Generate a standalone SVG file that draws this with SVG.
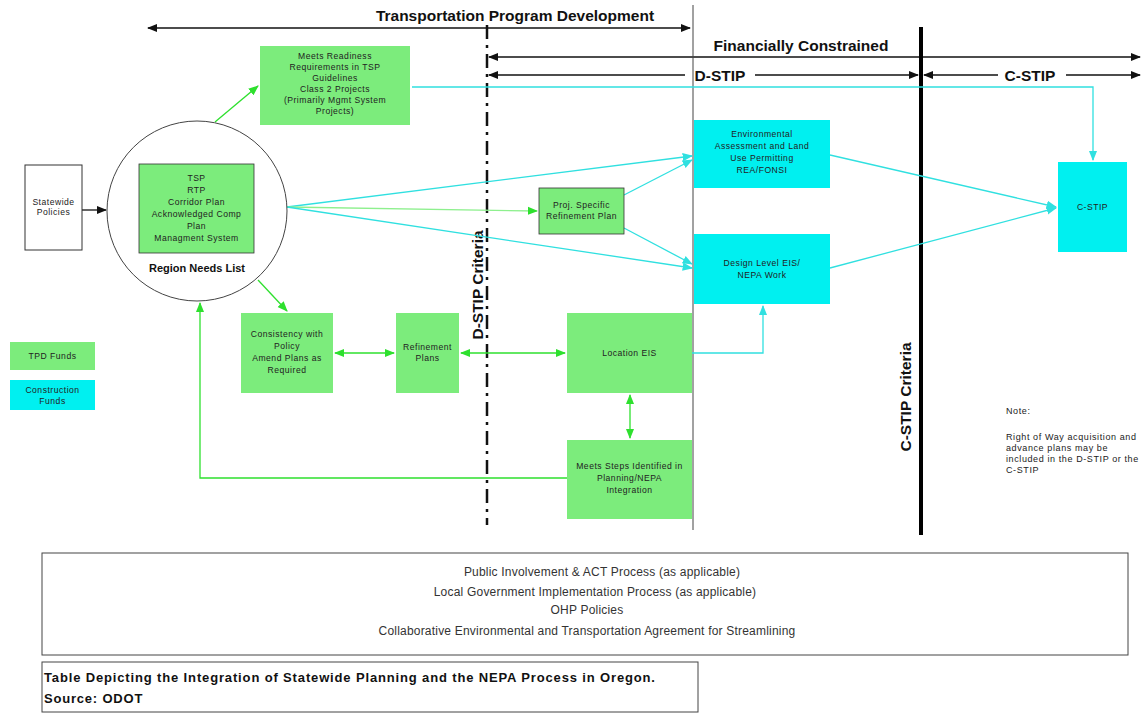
<svg xmlns="http://www.w3.org/2000/svg" width="1144" height="713" viewBox="0 0 1144 713">
<defs>
<style>
.g{fill:#7cec7c}
.c{fill:#00f0f0}
.t{font-family:"Liberation Sans",Arial,sans-serif;font-size:8.6px;letter-spacing:0.5px;fill:#222;text-anchor:middle}
.h{font-family:"Liberation Sans",Arial,sans-serif;font-size:15.5px;font-weight:bold;fill:#111;text-anchor:middle}
.b{font-family:"Liberation Sans",Arial,sans-serif;font-size:12px;letter-spacing:0.2px;fill:#333;text-anchor:middle}
.n{font-family:"Liberation Sans",Arial,sans-serif;font-size:9px;letter-spacing:0.6px;fill:#222}
.k{stroke:#111;stroke-width:1.3;fill:none}
.gl{stroke:#2ee02e;stroke-width:1.3;fill:none}
.cl{stroke:#30e0e0;stroke-width:1.3;fill:none}
</style>
<marker id="ak" viewBox="0 0 10 10" refX="9" refY="5" markerWidth="8" markerHeight="8" orient="auto-start-reverse"><path d="M0,1 L10,5 L0,9 z" fill="#111"/></marker>
<marker id="ag" viewBox="0 0 10 10" refX="9" refY="5" markerWidth="8" markerHeight="8" orient="auto-start-reverse"><path d="M0,1 L10,5 L0,9 z" fill="#2ee02e"/></marker>
<marker id="ac" viewBox="0 0 10 10" refX="9" refY="5" markerWidth="8" markerHeight="8" orient="auto-start-reverse"><path d="M0,1 L10,5 L0,9 z" fill="#30e0e0"/></marker>
</defs>
<rect width="1144" height="713" fill="#fff"/>

<!-- timeline headers -->
<g id="timeline">
<text class="h" x="515" y="21">Transportation  Program Development</text>
<line class="k" x1="148" y1="28" x2="690" y2="28" marker-start="url(#ak)" marker-end="url(#ak)"/>
<text class="h" x="801" y="51">Financially Constrained</text>
<line class="k" x1="489" y1="57" x2="1140" y2="57" marker-start="url(#ak)" marker-end="url(#ak)"/>
<line class="k" x1="489" y1="75" x2="685" y2="75" marker-start="url(#ak)"/>
<text class="h" x="720" y="81">D-STIP</text>
<line class="k" x1="755" y1="75" x2="918" y2="75" marker-end="url(#ak)"/>
<line class="k" x1="924" y1="75" x2="998" y2="75" marker-start="url(#ak)"/>
<text class="h" x="1030" y="81">C-STIP</text>
<line class="k" x1="1066" y1="75" x2="1140" y2="75" marker-end="url(#ak)"/>
<line x1="693" y1="5" x2="693" y2="530" stroke="#444" stroke-width="1"/>
<line x1="487" y1="25" x2="487" y2="525" stroke="#111" stroke-width="2.5" stroke-dasharray="14,6,3,6"/>
<line x1="921" y1="27" x2="921" y2="535" stroke="#000" stroke-width="4"/>
<text class="h" transform="translate(483,285) rotate(-90)">D-STIP Criteria</text>
<text class="h" transform="translate(911,397) rotate(-90)">C-STIP Criteria</text>
</g>

<!-- connectors -->
<g id="connectors">
<polyline class="cl" points="412,87 1093,87 1093,160" marker-end="url(#ac)"/>
<line class="k" x1="82" y1="210" x2="106" y2="210" marker-end="url(#ak)"/>
<line class="gl" x1="215" y1="122" x2="258" y2="86" marker-end="url(#ag)"/>
<line class="cl" x1="287" y1="207" x2="692" y2="156" marker-end="url(#ac)"/>
<line x1="287" y1="207" x2="537" y2="211" stroke="#8ef08e" stroke-width="1.3" marker-end="url(#ag)"/>
<line class="cl" x1="287" y1="207" x2="692" y2="268" marker-end="url(#ac)"/>
<line class="cl" x1="624" y1="195" x2="692" y2="160" marker-end="url(#ac)"/>
<line class="cl" x1="624" y1="228" x2="692" y2="264" marker-end="url(#ac)"/>
<line class="cl" x1="830" y1="155" x2="1056" y2="207" marker-end="url(#ac)"/>
<line class="cl" x1="830" y1="268" x2="1056" y2="208" marker-end="url(#ac)"/>
<polyline class="cl" points="692,353 763,353 763,306" marker-end="url(#ac)"/>
<line class="gl" x1="258" y1="280" x2="287" y2="311" marker-end="url(#ag)"/>
<line class="gl" x1="335" y1="353" x2="394" y2="353" marker-start="url(#ag)" marker-end="url(#ag)"/>
<line class="gl" x1="461" y1="353" x2="565" y2="353" marker-start="url(#ag)" marker-end="url(#ag)"/>
<line class="gl" x1="630" y1="395" x2="630" y2="438" marker-start="url(#ag)" marker-end="url(#ag)"/>
<polyline class="gl" points="567,478 200,478 200,303" marker-end="url(#ag)"/>
</g>

<g id="statewide-policies">
<rect x="25" y="165" width="57" height="85" fill="#fff" stroke="#333" stroke-width="1"/>
<text class="t" x="53.5" y="205">Statewide</text>
<text class="t" x="53.5" y="215">Policies</text>
</g>

<g id="region-needs">
<circle cx="197" cy="211" r="90" fill="#fff" stroke="#444" stroke-width="1"/>
<rect class="g" x="139" y="164" width="115" height="89" stroke="#333" stroke-width="0.8"/>
<text class="t" x="196.5" y="181">TSP</text>
<text class="t" x="196.5" y="193">RTP</text>
<text class="t" x="196.5" y="205">Corridor Plan</text>
<text class="t" x="196.5" y="217">Acknowledged Comp</text>
<text class="t" x="196.5" y="229">Plan</text>
<text class="t" x="196.5" y="241">Managment System</text>
<text x="197" y="272" font-family="Liberation Sans,Arial,sans-serif" font-size="11" font-weight="bold" fill="#111" text-anchor="middle">Region Needs List</text>
</g>

<g id="readiness">
<rect class="g" x="260" y="46" width="150" height="79"/>
<text class="t" x="335" y="59">Meets Readiness</text>
<text class="t" x="335" y="70">Requirements in TSP</text>
<text class="t" x="335" y="81">Guidelines</text>
<text class="t" x="335" y="92">Class 2 Projects</text>
<text class="t" x="335" y="103">(Primarily Mgmt System</text>
<text class="t" x="335" y="114">Projects)</text>
</g>

<g id="proj-specific">
<rect class="g" x="539" y="188" width="85" height="46" stroke="#333" stroke-width="0.8"/>
<text class="t" x="581.5" y="208">Proj. Specific</text>
<text class="t" x="581.5" y="219">Refinement Plan</text>
</g>

<g id="env-assessment">
<rect class="c" x="694" y="120" width="136" height="68"/>
<text class="t" x="762" y="137">Environmental</text>
<text class="t" x="762" y="149">Assessment and Land</text>
<text class="t" x="762" y="161">Use Permitting</text>
<text class="t" x="762" y="173">REA/FONSI</text>
</g>

<g id="design-level">
<rect class="c" x="694" y="234" width="136" height="70"/>
<text class="t" x="762" y="266">Design Level EIS/</text>
<text class="t" x="762" y="278">NEPA Work</text>
</g>

<g id="c-stip">
<rect class="c" x="1058" y="162" width="69" height="90"/>
<text class="t" x="1092.5" y="210">C-STIP</text>
</g>

<g id="consistency">
<rect class="g" x="241" y="313" width="92" height="80"/>
<text class="t" x="287" y="337">Consistency with</text>
<text class="t" x="287" y="349">Policy</text>
<text class="t" x="287" y="361">Amend Plans as</text>
<text class="t" x="287" y="373">Required</text>
</g>

<g id="refinement-plans">
<rect class="g" x="396" y="313" width="63" height="80"/>
<text class="t" x="427.5" y="350">Refinement</text>
<text class="t" x="427.5" y="361">Plans</text>
</g>

<g id="location-eis">
<rect class="g" x="567" y="313" width="125" height="80"/>
<text class="t" x="629.5" y="356">Location EIS</text>
</g>

<g id="meets-steps">
<rect class="g" x="567" y="440" width="125" height="79"/>
<text class="t" x="629.5" y="469">Meets Steps Identified in</text>
<text class="t" x="629.5" y="481">Planning/NEPA</text>
<text class="t" x="629.5" y="493">Integration</text>
</g>

<g id="legend">
<rect class="g" x="10" y="342" width="85" height="28"/>
<text class="t" x="52.5" y="359">TPD Funds</text>
<rect class="c" x="10" y="380" width="85" height="30"/>
<text class="t" x="52.5" y="393">Construction</text>
<text class="t" x="52.5" y="404">Funds</text>
</g>

<g id="note">
<text class="n" x="1006" y="414">Note:</text>
<text class="n" x="1006" y="440">Right of Way acquisition and</text>
<text class="n" x="1006" y="451">advance plans may be</text>
<text class="n" x="1006" y="462">included in the D-STIP or the</text>
<text class="n" x="1006" y="473">C-STIP</text>
</g>

<g id="processes">
<rect x="42" y="553" width="1086" height="102" fill="#fff" stroke="#444" stroke-width="1"/>
<text class="b" x="602" y="576">Public Involvement &amp; ACT Process   (as applicable)</text>
<text class="b" x="595" y="596">Local Government Implementation Process  (as applicable)</text>
<text class="b" x="587" y="614">OHP Policies</text>
<text class="b" x="587" y="635">Collaborative Environmental and Transportation Agreement for Streamlining</text>
</g>

<g id="caption">
<rect x="42" y="662" width="656" height="50" fill="#fff" stroke="#444" stroke-width="1"/>
<text font-family="Liberation Sans,Arial,sans-serif" font-size="13" font-weight="bold" fill="#111" x="44" y="682" textLength="611" lengthAdjust="spacing">Table Depicting the Integration of  Statewide Planning and the NEPA Process in Oregon.</text>
<text font-family="Liberation Sans,Arial,sans-serif" font-size="13" font-weight="bold" fill="#111" x="44" y="703" letter-spacing="0.8">Source: ODOT</text>
</g>
</svg>
